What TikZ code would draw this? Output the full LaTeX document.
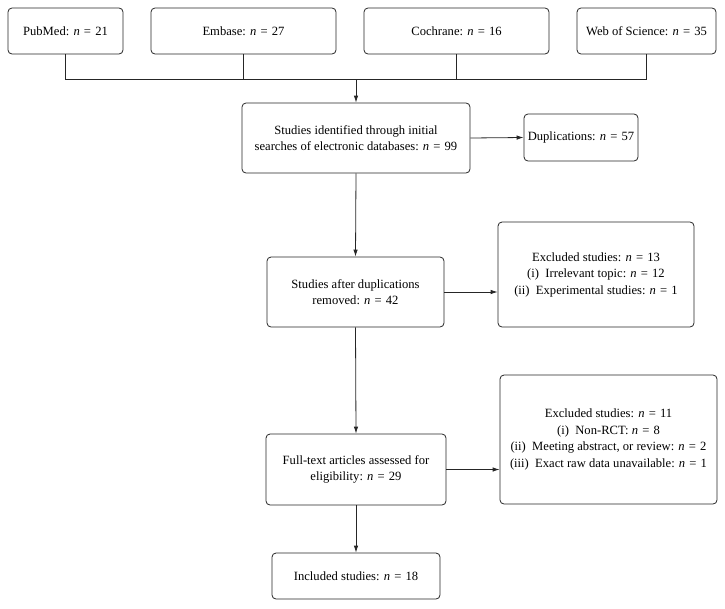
\documentclass[tikz,border=0pt]{standalone}
\usepackage{fontspec}
\setmainfont{Liberation Serif}
\usetikzlibrary{arrows.meta}
\newcommand{\nn}{\textit{n}\hspace{0.33em}=\hspace{0.33em}}
\begin{document}
\begin{tikzpicture}[x=1pt,y=1pt,
  box/.style={draw=black!85, line width=0.8pt, rounded corners=4pt, align=center,
    inner sep=1pt, font=\fontsize{12.6}{16.5}\selectfont, text=black},
  conn/.style={draw=black!85, line width=0.8pt},
  arr/.style={conn, -{Latex[length=7pt,width=4.5pt]}}]
\useasboundingbox (0,0) rectangle (725,-608);
\node[box, minimum width=115pt, minimum height=46pt] (pub) at (65.5,-31) {PubMed: \nn21};
\node[box, minimum width=185pt, minimum height=46pt] (emb) at (243.5,-31) {Embase: \nn27};
\node[box, minimum width=185pt, minimum height=46pt] (coc) at (456.5,-31) {Cochrane: \nn16};
\node[box, minimum width=139pt, minimum height=46pt] (wos) at (646.5,-31) {Web of Science: \nn35};
\node[box, minimum width=228pt, minimum height=70pt] (main) at (356,-138) {Studies identified through initial\\searches of electronic databases: \nn99};
\node[box, minimum width=114pt, minimum height=47pt] (dup) at (581,-137.5) {Duplications: \nn57};
\node[box, minimum width=177pt, minimum height=70pt] (after) at (355.5,-292) {Studies after duplications\\removed: \nn42};
\node[box, minimum width=196pt, minimum height=105pt] (ex1) at (596,-274.5) {Excluded studies: \nn13\\(i)\ \ Irrelevant topic: \nn12\\(ii)\ \ Experimental studies: \nn1};
\node[box, minimum width=180pt, minimum height=71pt] (full) at (356,-469.5) {Full-text articles assessed for\\eligibility: \nn29};
\node[box, minimum width=217pt, minimum height=129pt] (ex2) at (608.5,-439.5) {Excluded studies: \nn11\\(i)\ \ Non-RCT: \nn8\\(ii)\ \ Meeting abstract, or review: \nn2\\(iii)\ \ Exact raw data unavailable: \nn1};
\node[box, minimum width=168pt, minimum height=46pt] (incl) at (356,-576) {Included studies: \nn18};
\coordinate (j) at (356,-79);
\draw[conn] (pub.south) -- (pub.south |- j) -- (wos.south |- j) -- (wos.south);
\draw[conn] (emb.south) -- (emb.south |- j);
\draw[conn] (coc.south) -- (coc.south |- j);
\draw[arr] (j) -- (main.north);
\draw[arr] (main.east) -- (dup.west);
\draw[arr] (main.south) -- (after.north);
\draw[arr] (after.east) -- (after.east -| ex1.west);
\draw[arr] (after.south) -- (full.north);
\draw[arr] (full.east) -- (full.east -| ex2.west);
\draw[arr] (full.south) -- (incl.north);
\end{tikzpicture}
\end{document}
